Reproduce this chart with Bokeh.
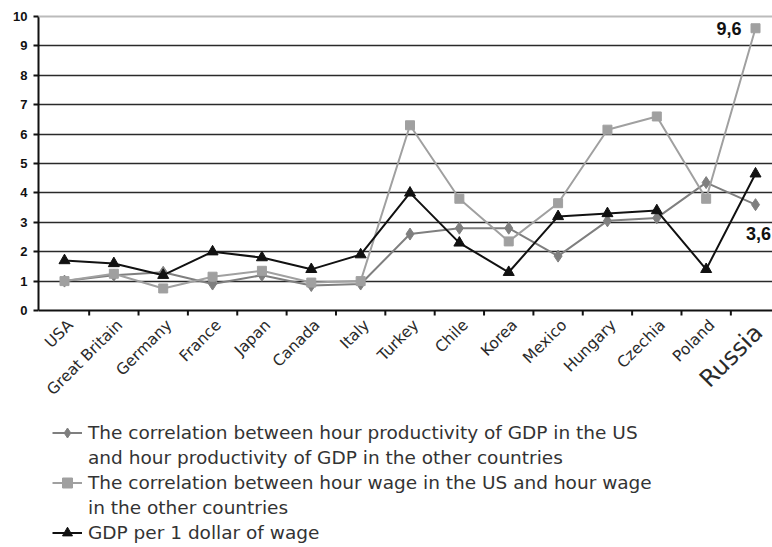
from math import pi
from bokeh.plotting import figure
from bokeh.models import Legend, LegendItem, Span, FixedTicker, ColumnDataSource
from bokeh.core.properties import value
from bokeh.embed import file_html
from bokeh.resources import INLINE

countries = ["USA", "Great Britain", "Germany", "France", "Japan", "Canada", "Italy",
             "Turkey", "Chile", "Korea", "Mexico", "Hungary", "Czechia", "Poland", "Russia"]
productivity = [1.0, 1.2, 1.3, 0.9, 1.2, 0.85, 0.9, 2.6, 2.8, 2.8, 1.85, 3.05, 3.15, 4.35, 3.6]
wage = [1.0, 1.25, 0.75, 1.15, 1.35, 0.95, 1.0, 6.3, 3.8, 2.35, 3.65, 6.15, 6.6, 3.8, 9.6]
gdp_per_dollar = [1.7, 1.6, 1.2, 2.0, 1.8, 1.4, 1.9, 4.0, 2.3, 1.3, 3.2, 3.3, 3.4, 1.4, 4.65]
y_ticks = list(range(0, 11))
legend_labels = [
    ["The correlation between hour productivity of GDP in the US",
     "and hour productivity of GDP in the other countries"],
    ["The correlation between hour wage in the US and hour wage",
     "in the other countries"],
    ["GDP per 1 dollar of wage"],
]

xs = list(range(len(countries)))
FONT = "Liberation Sans"
TFONT = "DejaVu Sans"

p = figure(width=772, height=547, output_backend="svg", toolbar_location=None,
           x_range=(-0.5267, 14.344), y_range=(-8.061, 10.544), x_axis_location=None,
           min_border_left=38, min_border_right=0, min_border_top=0, min_border_bottom=0)
p.outline_line_color = None

# y axis
p.yaxis.bounds = (y_ticks[0], y_ticks[-1])
p.yaxis.ticker = FixedTicker(ticks=y_ticks)
p.yaxis.major_tick_in = 0
p.yaxis.major_tick_out = 5
p.yaxis.minor_tick_line_color = None
p.yaxis.axis_line_width = 2
p.yaxis.major_tick_line_width = 2
p.yaxis.axis_line_color = "#111"
p.yaxis.major_tick_line_color = "#111"
p.yaxis.major_label_text_font = FONT
p.yaxis.major_label_text_font_style = "bold"
p.yaxis.major_label_text_font_size = "13px"
p.yaxis.major_label_text_color = "#111"
p.yaxis.major_label_standoff = 6

p.xgrid.visible = False
p.ygrid.ticker = FixedTicker(ticks=y_ticks[1:-1])
p.ygrid.grid_line_color = "#2a2a2a"
p.ygrid.grid_line_width = 1.5

p.add_layout(Span(location=y_ticks[-1], dimension="width", line_color="#bbbbbb", line_width=2))

# x axis line and ticks between categories
p.add_layout(Span(location=y_ticks[0], dimension="width", line_color="#111", line_width=2))
bounds_x = [i + 0.5 for i in xs[:-1]]
p.ray(x=bounds_x, y=[y_ticks[0]] * len(bounds_x), length=5, length_units="screen",
      angle=-pi / 2, line_color="#111", line_width=2)

# series
c1, c2, c3 = "#7f7f7f", "#a0a0a0", "#111111"
l1 = p.line(xs, productivity, line_color=c1, line_width=2)
m1 = p.scatter(xs, productivity, marker="diamond", size=12, color=c1)
l2 = p.line(xs, wage, line_color=c2, line_width=2)
m2 = p.scatter(xs, wage, marker="square", size=9, color=c2)
l3 = p.line(xs, gdp_per_dollar, line_color=c3, line_width=2)
m3 = p.scatter(xs, gdp_per_dollar, marker="triangle", size=11, color=c3)

# category labels
big = [c == "Russia" for c in countries]
lab_src = ColumnDataSource(dict(
    x=xs, y=[y_ticks[0]] * len(xs), text=countries,
    size=["24px" if b else "15.5px" for b in big],
    dx=[3 if b else 6 for b in big],
    dy=[18 if b else 12 for b in big],
))
p.text(x="x", y="y", text="text", source=lab_src, angle=pi / 4, x_offset="dx", y_offset="dy",
       text_align="right", text_baseline="middle", text_font=value(TFONT),
       text_font_size="size", text_color="#2a2a2a")

# value labels
def fmt(v):
    return f"{v:.1f}".replace(".", ",")

p.text(x=[xs[-1]], y=[wage[-1]], text=[fmt(wage[-1])], x_offset=-14,
       text_align="right", text_baseline="middle", text_font=value(FONT),
       text_font_style="bold", text_font_size="18px", text_color="#111")
p.text(x=[xs[-1]], y=[productivity[-1]], text=[fmt(productivity[-1])], x_offset=3, y_offset=29,
       text_align="center", text_baseline="middle", text_font=value(FONT),
       text_font_style="bold", text_font_size="18px", text_color="#111")

# legend: one row per text line, glyph on the first line of each entry
items = []
for rends, lines in zip([[l1, m1], [l2, m2], [l3, m3]], legend_labels):
    items.append(LegendItem(label=lines[0], renderers=rends))
    for extra in lines[1:]:
        items.append(LegendItem(label=extra, renderers=[]))

legend = Legend(items=items,
                location=(14, 2), glyph_width=30, glyph_height=25, label_height=25,
                label_standoff=6, padding=0, margin=0, spacing=0, border_line_color=None,
                background_fill_alpha=0, label_text_font=TFONT, label_text_font_size="18.5px",
                label_text_color="#333")
p.add_layout(legend, "center")

open("out.html", "w").write(file_html(p, INLINE))
